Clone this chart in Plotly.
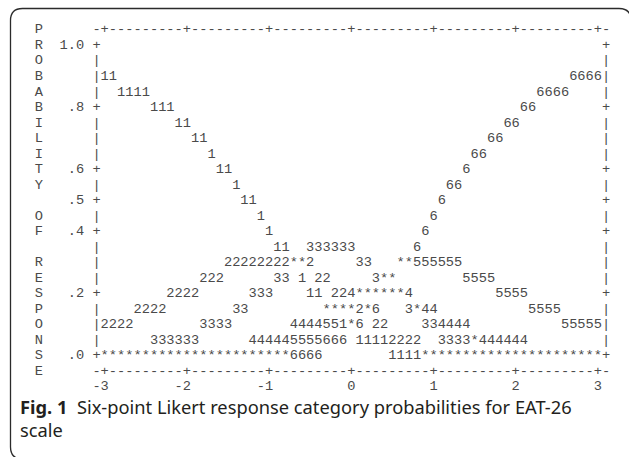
import plotly.graph_objects as go

# ---- chart content -------------------------------------------------------
# Vertical axis title, one letter per printed line (top border .. bottom border)
side_title = list("PROBABILITY OF RESPONSE")

# Probability tick labels keyed by printed line
prob_ticks = {1: "1.0", 5: ".8", 9: ".6", 11: ".5", 13: ".4", 17: ".2", 21: ".0"}

# Measure (logit) tick labels
theta_ticks = ["-3", "-2", "-1", "0", "1", "2", "3"]

# Category probability curves, one text row per probability level (1.0 .. .0)
# digits = response category 1..6, '*' = two or more categories coincide
curve_rows = [
    "",
    "",
    "11                                                       6666",
    "  1111                                               6666",
    "      111                                          66",
    "         11                                      66",
    "           11                                  66",
    "             1                               66",
    "              11                            6",
    "                1                         66",
    "                 11                      6",
    "                   1                    6",
    "                    1                  6",
    "                     11  333333       6",
    "               22222222**2     33   **555555",
    "            222      33 1 22     3**        5555",
    "        2222      333    11 224******4          5555",
    "    2222        33         ****2*6   3*44           5555",
    "2222        3333       4444551*6 22    334444           55555",
    "      333333      444445555666 11112222  3333*444444",
    "***********************6666        1111**********************",
]

caption_bold = "Fig. 1"
caption_text = "Six-point Likert response category probabilities for EAT-26"
caption_tail = "scale"

# ---- assemble the printed lines -----------------------------------------
WIDTH = 61          # plot columns between the two frame edges
FRAME = 7           # text column of the left frame
border = "-" + ("+" + "-" * 9) * 6 + "+-"

lines = []
lines.append(side_title[0].ljust(FRAME) + border)
for i, row in enumerate(curve_rows, start=1):
    label = prob_ticks.get(i, "")
    edge = "+" if i in prob_ticks else "|"
    lines.append(side_title[i] + label.rjust(5) + " " + edge + row.ljust(WIDTH) + edge)
lines.append(side_title[len(curve_rows) + 1].ljust(FRAME) + border)

tick_line = [" "] * (FRAME + WIDTH + 2)
for k, lab in enumerate(theta_ticks):
    end = FRAME + 1 + 10 * k
    for n, ch in enumerate(reversed(lab)):
        tick_line[end - n] = ch
lines.append("".join(tick_line))

xs, ys, chars = [], [], []
for li, line in enumerate(lines):
    for ci, ch in enumerate(line):
        if ch != " ":
            xs.append(ci)
            ys.append(li)
            chars.append(ch)

# ---- figure --------------------------------------------------------------
W, H = 629, 457
CHAR_W, LINE_H = 8.22, 15.52
X0, Y0 = 38.96, 30.0     # pixel centre of column 0 / line 0

fig = go.Figure(
    go.Scatter(
        x=xs, y=ys, text=chars, mode="text",
        textposition="middle center",
        textfont=dict(family="Liberation Mono, Courier New, monospace",
                      size=13.7, color="#4a4a4a"),
        hoverinfo="skip", showlegend=False,
    )
)

x_lo = -X0 / CHAR_W
y_top = -Y0 / LINE_H
fig.update_xaxes(visible=False, range=[x_lo, x_lo + W / CHAR_W], fixedrange=True)
fig.update_yaxes(visible=False, range=[y_top + H / LINE_H, y_top], fixedrange=True)


def px(x):
    return x / W


def py(y):
    return 1 - y / H


# rounded frame around figure and caption
r = 12
L, T, R, B = 10.5, 8.5, 631.0, 459.0
path = (
    f"M {px(L + r)},{py(B)} Q {px(L)},{py(B)} {px(L)},{py(B - r)} "
    f"L {px(L)},{py(T + r)} "
    f"Q {px(L)},{py(T)} {px(L + r)},{py(T)} "
    f"L {px(R - r)},{py(T)} Q {px(R)},{py(T)} {px(R)},{py(T + r)} "
    f"L {px(R)},{py(B)}"
)
fig.add_shape(type="path", path=path, xref="paper", yref="paper",
              line=dict(color="#2b2b2b", width=1.3))

fig.add_annotation(
    x=px(18), y=py(406), xref="paper", yref="paper",
    xanchor="left", yanchor="middle", showarrow=False, align="left",
    text=f"<b>{caption_bold}</b>\u00a0\u00a0{caption_text}",
    font=dict(family="Noto Sans", size=18.3, color="#231f20"),
)
fig.add_annotation(
    x=px(18), y=py(429), xref="paper", yref="paper",
    xanchor="left", yanchor="middle", showarrow=False, align="left",
    text=caption_tail,
    font=dict(family="Noto Sans", size=18.3, color="#231f20"),
)

fig.update_layout(
    width=W, height=H,
    margin=dict(l=0, r=0, t=0, b=0),
    paper_bgcolor="white", plot_bgcolor="white",
)

fig.write_html("out.html")
